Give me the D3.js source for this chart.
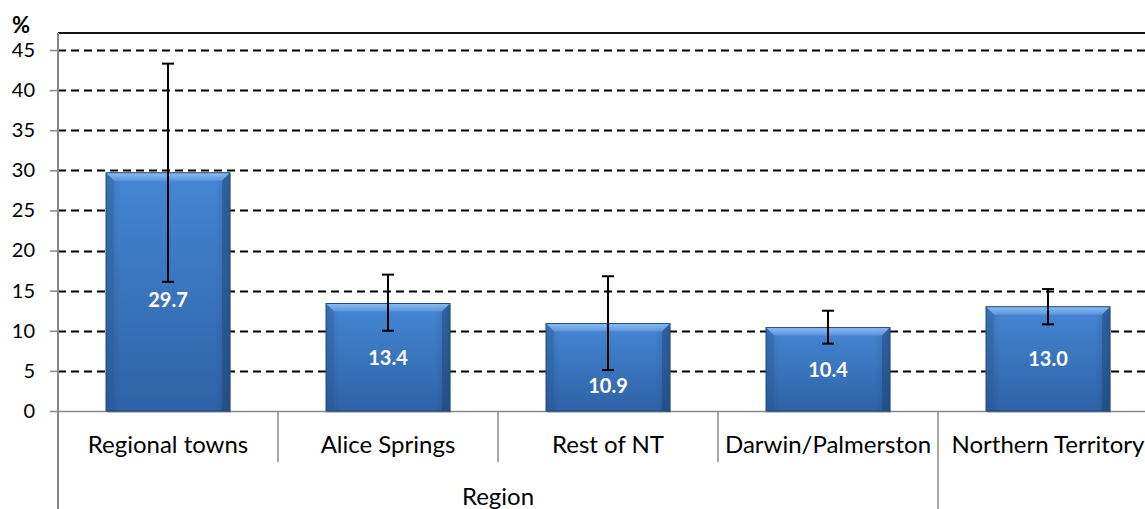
<!DOCTYPE html>
<html><head><meta charset="utf-8">
<script src="https://cdn.jsdelivr.net/npm/d3@7"></script>
<style>html,body{margin:0;padding:0;background:#fff;overflow:hidden}svg{display:block}</style>
</head><body><svg id="c" width="1145" height="509"></svg>
<script>
const categories = ["Regional towns","Alice Springs","Rest of NT","Darwin/Palmerston","Northern Territory"];
const values = [29.7, 13.4, 10.9, 10.4, 13.0];
const errLow = [16.1, 10.0, 5.1, 8.4, 10.8];
const errHigh = [43.3, 17.0, 16.8, 12.5, 15.2];
const yTicks = [0,5,10,15,20,25,30,35,40,45];
const groupLabel = "Region";
const yUnit = "%";

const svg = d3.select("#c");
const font = "Lato, 'Open Sans', sans-serif";
const left = 58, zeroY = 411, topBorder = 33;
const x = d3.scaleBand().domain(categories).range([left, left + 220*categories.length]).padding(0);
const y = d3.scaleLinear().domain([0,45]).range([zeroY, 50]);

const defs = svg.append("defs");
const g1 = defs.append("linearGradient").attr("id","barg").attr("x1",0).attr("y1",0).attr("x2",0).attr("y2",1);
g1.append("stop").attr("offset","0%").attr("stop-color","#4586d4");
g1.append("stop").attr("offset","100%").attr("stop-color","#2e63a6");
const g2 = defs.append("linearGradient").attr("id","barh").attr("x1",0).attr("y1",0).attr("x2",1).attr("y2",0);
g2.append("stop").attr("offset","0%").attr("stop-color","#000").attr("stop-opacity",0.12);
g2.append("stop").attr("offset","12%").attr("stop-color","#000").attr("stop-opacity",0);
g2.append("stop").attr("offset","88%").attr("stop-color","#000").attr("stop-opacity",0);
g2.append("stop").attr("offset","100%").attr("stop-color","#000").attr("stop-opacity",0.15);
const g3 = defs.append("linearGradient").attr("id","bevt").attr("x1",0).attr("y1",0).attr("x2",0).attr("y2",1);
g3.append("stop").attr("offset","0%").attr("stop-color","#9cc8f5");
g3.append("stop").attr("offset","100%").attr("stop-color","#5a97df");

// top border
svg.append("line").attr("x1",left).attr("x2",1145).attr("y1",topBorder).attr("y2",topBorder)
  .attr("stroke","#111").attr("stroke-width",2);

// gridlines
svg.append("g").selectAll("line").data(yTicks.filter(d=>d>0)).join("line")
  .attr("x1",left).attr("x2",1145).attr("y1",d=>Math.round(y(d))+0.5).attr("y2",d=>Math.round(y(d))+0.5)
  .attr("stroke","#000").attr("stroke-width",2).attr("stroke-dasharray","8,5");

// y axis
const ya = d3.axisLeft(y).tickValues(yTicks).tickSize(8).tickPadding(15).tickFormat(d3.format("d"));
const yg = svg.append("g").attr("transform",`translate(${left},0)`).call(ya);
yg.select(".domain").remove();
yg.selectAll(".tick line").attr("stroke","#888").attr("stroke-width",1.5);
yg.selectAll(".tick text").attr("font-family",font).attr("font-size",20).attr("fill","#000");
svg.append("line").attr("x1",left).attr("x2",left).attr("y1",topBorder).attr("y2",509).attr("stroke","#888").attr("stroke-width",2);
svg.append("text").attr("x",12).attr("y",33).text(yUnit).attr("font-family",font).attr("font-weight","bold").attr("font-size",22);

// x axis baseline
svg.append("line").attr("x1",left).attr("x2",1145).attr("y1",zeroY+0.5).attr("y2",zeroY+0.5).attr("stroke","#888").attr("stroke-width",1.5);
// category separators
const seps = categories.slice(1).map(c=>x(c));
svg.append("g").selectAll("line").data(seps).join("line")
  .attr("x1",d=>d).attr("x2",d=>d).attr("y1",zeroY).attr("y2",(d,i)=> i===seps.length-1 ? 509 : 462)
  .attr("stroke","#888").attr("stroke-width",1.5);

// bars
const bw = 124;
const bars = svg.append("g").selectAll("g").data(categories).join("g");
const bev = 8;
bars.each(function(c,i){
  const gx = x(c) + x.bandwidth()/2 - bw/2, gy = y(values[i]), h = zeroY - gy;
  const s = d3.select(this);
  s.append("rect").attr("x",gx+1).attr("y",gy+2).attr("width",bw).attr("height",h).attr("fill","#000").attr("opacity",0.15);
  s.append("rect").attr("x",gx).attr("y",gy).attr("width",bw).attr("height",h).attr("fill","url(#barg)");
  s.append("rect").attr("x",gx).attr("y",gy).attr("width",bw).attr("height",h).attr("fill","url(#barh)");
  s.append("path").attr("d",`M${gx},${gy}L${gx+bw},${gy}L${gx+bw-bev},${gy+bev}L${gx+bev},${gy+bev}Z`).attr("fill","url(#bevt)").attr("opacity",0.85);
  s.append("path").attr("d",`M${gx},${gy}L${gx+bev},${gy+bev}L${gx+bev},${zeroY}L${gx},${zeroY}Z`).attr("fill","#2a5c9a").attr("opacity",0.3);
  s.append("path").attr("d",`M${gx+bw},${gy}L${gx+bw-bev},${gy+bev}L${gx+bw-bev},${zeroY}L${gx+bw},${zeroY}Z`).attr("fill","#1d4478").attr("opacity",0.45);
  s.append("rect").attr("x",gx).attr("y",gy).attr("width",bw).attr("height",h).attr("fill","none").attr("stroke","#1f4a80").attr("stroke-width",1);
});

// error bars
const cx = c => x(c) + x.bandwidth()/2;
const eb = svg.append("g").attr("stroke","#000").attr("stroke-width",2);
categories.forEach((c,i)=>{
  eb.append("line").attr("x1",cx(c)).attr("x2",cx(c)).attr("y1",y(errLow[i])).attr("y2",y(errHigh[i]));
  [errLow[i],errHigh[i]].forEach(v=>eb.append("line").attr("x1",cx(c)-6).attr("x2",cx(c)+6).attr("y1",y(v)).attr("y2",y(v)));
});

// value labels
const labelShift = [8,1,19,1,0];
svg.append("g").selectAll("text").data(categories).join("text")
  .attr("x",c=>cx(c)).attr("y",(c,i)=>(y(values[i])+zeroY)/2 + labelShift[i] + 7)
  .attr("text-anchor","middle").attr("fill","#fff").attr("font-weight","bold")
  .attr("font-family",font).attr("font-size",20)
  .text((c,i)=>values[i].toFixed(1));

// category labels
svg.append("g").selectAll("text").data(categories).join("text")
  .attr("x",c=>cx(c)).attr("y",453).attr("text-anchor","middle")
  .attr("font-family",font).attr("font-size",24).attr("fill","#000").text(c=>c);

svg.append("text").attr("x",(x(categories[0])+x(categories[3])+x.bandwidth())/2).attr("y",505)
  .attr("text-anchor","middle").attr("font-family",font).attr("font-size",24).text(groupLabel);
</script></body></html>
